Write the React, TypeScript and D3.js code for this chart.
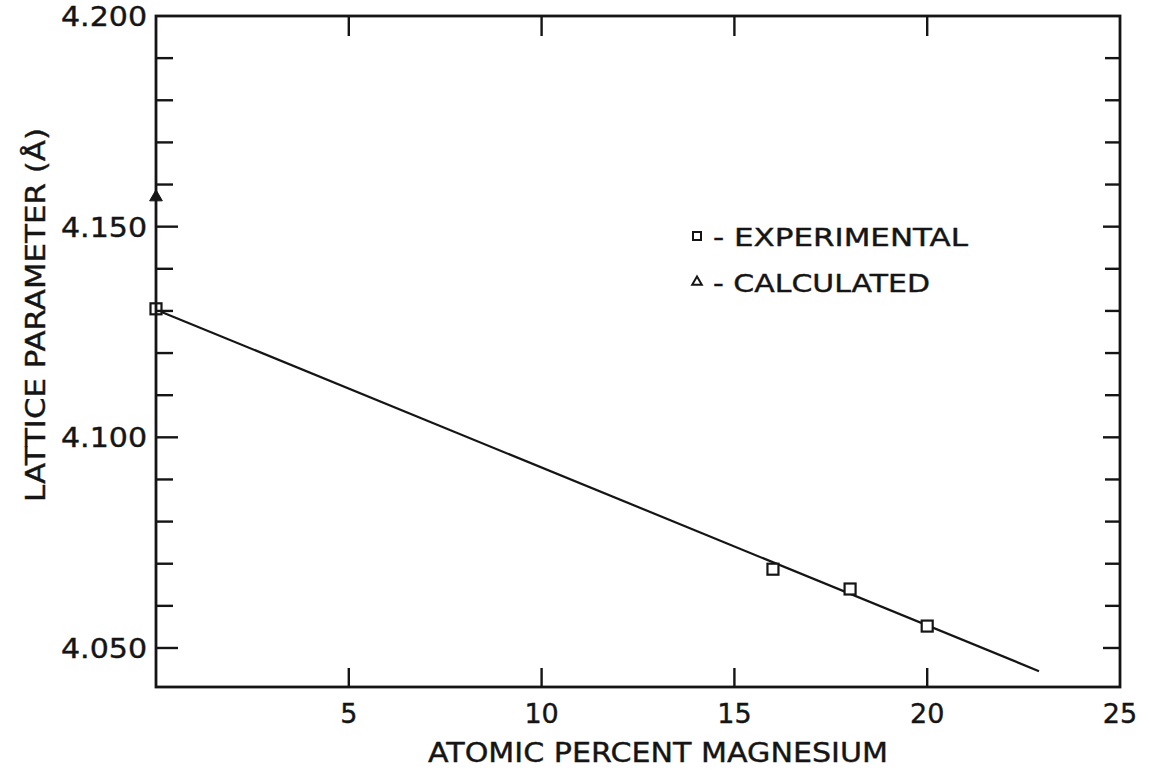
import React, { useEffect, useRef } from "react";
import * as d3 from "d3";

// Magnesium content (atomic %) and measured lattice parameter (Å)
const expPercent = [0, 16, 18, 20];
const expLattice = [4.1305, 4.0687, 4.064, 4.0552];

// Calculated value for the pure host
const calcPercent = [0];
const calcLattice = [4.157];

// Least-squares line through the experimental points
const fitPercent = [0, 22.9];
const fitLattice = [4.1303, 4.0445];

const xMajorTicks = [5, 10, 15, 20];
const xTickLabels = ["5", "10", "15", "20", "25"];
const xLabelValues = [5, 10, 15, 20, 25];
const yMajorTicks = [4.05, 4.1, 4.15, 4.2];
const yTickLabels = ["4.050", "4.100", "4.150", "4.200"];
const yMinorTicks = [4.06, 4.07, 4.08, 4.09, 4.11, 4.12, 4.13, 4.14, 4.16, 4.17, 4.18, 4.19];

const legendLabels = ["- EXPERIMENTAL", "- CALCULATED"];

const W = 1149;
const H = 772;
const FONT = "'DejaVu Sans', 'Liberation Sans', sans-serif";

export default function App() {
  const ref = useRef<SVGSVGElement | null>(null);

  useEffect(() => {
    const svg = d3.select(ref.current);
    svg.selectAll("*").remove();

    const left = 156, right = 1120, top = 16, bottom = 687;
    const x = d3.scaleLinear().domain([0, 25]).range([left, right]);
    const y = d3.scaleLinear().domain([4.04074, 4.2]).range([bottom, top]);

    const g = svg.append("g");
    const ink = "#151515";

    // fit line
    const line = d3.line<number>()
      .x((_, i) => x(fitPercent[i]))
      .y((d) => y(d));
    g.append("path")
      .attr("d", line(fitLattice) as string)
      .attr("fill", "none")
      .attr("stroke", ink)
      .attr("stroke-width", 2.2);

    // experimental points (hollow squares)
    const sq = 11;
    g.selectAll("rect.exp")
      .data(expPercent.map((p, i) => ({ p, v: expLattice[i] })))
      .enter()
      .append("rect")
      .attr("class", "exp")
      .attr("x", (d) => x(d.p) - sq / 2)
      .attr("y", (d) => y(d.v) - sq / 2)
      .attr("width", sq)
      .attr("height", sq)
      .attr("fill", "white")
      .attr("stroke", ink)
      .attr("stroke-width", 2.2);

    // calculated point (triangle)
    const tri = d3.symbol().type(d3.symbolTriangle).size(70);
    g.selectAll("path.calc")
      .data(calcPercent.map((p, i) => ({ p, v: calcLattice[i] })))
      .enter()
      .append("path")
      .attr("class", "calc")
      .attr("d", tri as any)
      .attr("transform", (d) => `translate(${x(d.p)},${y(d.v)})`)
      .attr("fill", ink)
      .attr("stroke", ink)
      .attr("stroke-width", 1);

    // frame
    g.append("rect")
      .attr("x", left)
      .attr("y", top)
      .attr("width", right - left)
      .attr("height", bottom - top)
      .attr("fill", "none")
      .attr("stroke", ink)
      .attr("stroke-width", 2.8);

    // x ticks top and bottom
    xMajorTicks.forEach((t) => {
      g.append("line").attr("x1", x(t)).attr("x2", x(t)).attr("y1", bottom).attr("y2", bottom - 19)
        .attr("stroke", ink).attr("stroke-width", 2.4);
      g.append("line").attr("x1", x(t)).attr("x2", x(t)).attr("y1", top).attr("y2", top + 20)
        .attr("stroke", ink).attr("stroke-width", 2.4);
    });

    // y ticks left and right
    yMajorTicks.forEach((t) => {
      if (t >= 4.2) return;
      g.append("line").attr("x1", left).attr("x2", left + 22).attr("y1", y(t)).attr("y2", y(t))
        .attr("stroke", ink).attr("stroke-width", 2.4);
      g.append("line").attr("x1", right).attr("x2", right - 17).attr("y1", y(t)).attr("y2", y(t))
        .attr("stroke", ink).attr("stroke-width", 2.4);
    });
    yMinorTicks.forEach((t) => {
      g.append("line").attr("x1", left).attr("x2", left + 17).attr("y1", y(t)).attr("y2", y(t))
        .attr("stroke", ink).attr("stroke-width", 2.4);
      g.append("line").attr("x1", right).attr("x2", right - 15).attr("y1", y(t)).attr("y2", y(t))
        .attr("stroke", ink).attr("stroke-width", 2.4);
    });

    const txt = (sel: any, size: number) =>
      sel.attr("font-family", FONT).attr("font-size", size).attr("fill", ink)
        .attr("stroke", ink).attr("stroke-width", 0.4);

    // tick labels
    xLabelValues.forEach((t, i) => {
      txt(g.append("text").attr("x", x(t)).attr("y", 723).attr("text-anchor", "middle"), 27)
        .text(xTickLabels[i]);
    });
    yMajorTicks.forEach((t, i) => {
      txt(g.append("text").attr("x", 147).attr("y", y(t) + 10).attr("text-anchor", "end"), 27)
        .attr("textLength", 86).attr("lengthAdjust", "spacingAndGlyphs")
        .text(yTickLabels[i]);
    });

    // axis titles
    txt(g.append("text").attr("x", 658).attr("y", 762).attr("text-anchor", "middle"), 27)
      .attr("textLength", 460).attr("lengthAdjust", "spacingAndGlyphs")
      .text("ATOMIC PERCENT MAGNESIUM");
    txt(g.append("text").attr("transform", "translate(45,315) rotate(-90)").attr("text-anchor", "middle"), 27)
      .attr("textLength", 374).attr("lengthAdjust", "spacingAndGlyphs")
      .text("LATTICE PARAMETER (Å)");

    // legend
    const lg = g.append("g");
    lg.append("rect").attr("x", 693).attr("y", 232).attr("width", 8).attr("height", 8)
      .attr("fill", "none").attr("stroke", ink).attr("stroke-width", 2);
    lg.append("path")
      .attr("d", d3.symbol().type(d3.symbolTriangle).size(40)() as string)
      .attr("transform", "translate(697,282)")
      .attr("fill", "none").attr("stroke", ink).attr("stroke-width", 2);
    legendLabels.forEach((lab, i) => {
      txt(lg.append("text").attr("x", 713).attr("y", 246 + i * 46), 25)
        .attr("textLength", i === 0 ? 255 : 217).attr("lengthAdjust", "spacingAndGlyphs")
        .text(lab);
    });
  }, []);

  return (
    <svg
      ref={ref}
      width={W}
      height={H}
      viewBox={`0 0 ${W} ${H}`}
      style={{ position: "absolute", left: 0, top: 0, background: "white" }}
    />
  );
}
